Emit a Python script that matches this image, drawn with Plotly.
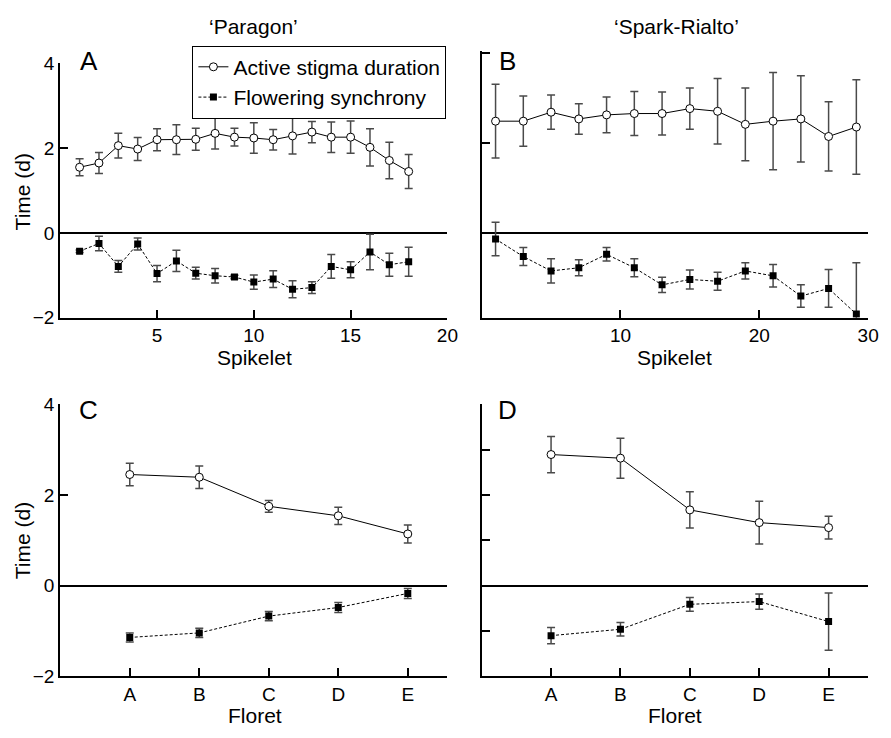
import plotly.graph_objects as go

# ---------------- data ----------------
spikelet_par = list(range(1, 19))
stigma_par = [1.55, 1.65, 2.06, 1.98, 2.20, 2.20, 2.21, 2.35, 2.26, 2.24, 2.20, 2.29, 2.38, 2.26, 2.26, 2.02, 1.71, 1.45]
stigma_par_err = [0.20, 0.25, 0.29, 0.27, 0.26, 0.35, 0.26, 0.37, 0.21, 0.36, 0.24, 0.43, 0.25, 0.36, 0.38, 0.44, 0.43, 0.40]
sync_par = [-0.43, -0.25, -0.79, -0.26, -0.96, -0.66, -0.95, -1.01, -1.04, -1.16, -1.09, -1.33, -1.29, -0.79, -0.87, -0.45, -0.75, -0.68]
sync_par_err = [0.03, 0.17, 0.14, 0.14, 0.19, 0.25, 0.14, 0.17, 0.04, 0.17, 0.20, 0.20, 0.14, 0.28, 0.19, 0.42, 0.27, 0.34]

spikelet_spr = list(range(1, 28, 2))
stigma_spr = [2.48, 2.48, 2.68, 2.53, 2.62, 2.65, 2.65, 2.76, 2.70, 2.41, 2.48, 2.53, 2.14, 2.35]
stigma_spr_err = [0.82, 0.56, 0.38, 0.34, 0.40, 0.49, 0.48, 0.46, 0.73, 0.81, 1.08, 0.96, 0.77, 1.05]
sync_spr = [-0.14, -0.53, -0.85, -0.78, -0.48, -0.78, -1.16, -1.04, -1.08, -0.85, -0.96, -1.41, -1.24, -1.81]
sync_spr_err = [0.37, 0.20, 0.27, 0.18, 0.15, 0.20, 0.17, 0.21, 0.20, 0.18, 0.25, 0.25, 0.42, 1.14]

floret_pos = [1, 2, 3, 4, 5]
floret_labels = ["A", "B", "C", "D", "E"]
stigma_flo_par = [2.45, 2.39, 1.75, 1.54, 1.14]
stigma_flo_par_err = [0.25, 0.25, 0.13, 0.19, 0.20]
sync_flo_par = [-1.14, -1.04, -0.67, -0.48, -0.17]
sync_flo_par_err = [0.10, 0.10, 0.10, 0.11, 0.11]

stigma_flo_spr = [2.89, 2.81, 1.67, 1.39, 1.28]
stigma_flo_spr_err = [0.40, 0.44, 0.40, 0.47, 0.25]
sync_flo_spr = [-1.10, -0.96, -0.41, -0.35, -0.79]
sync_flo_spr_err = [0.18, 0.15, 0.15, 0.17, 0.63]

panel_letters = ["A", "B", "C", "D"]
col_titles = ["\u2018Paragon\u2019", "\u2018Spark-Rialto\u2019"]

# ---------------- figure ----------------
W, H = 891, 738
FONT = "Liberation Sans, Arial, Helvetica, sans-serif"
ERRC = "#4a4a4a"

fig = go.Figure()

def px_x(p):
    return p / W

def px_y(p):
    return 1 - p / H

def add_pair(xs, s, se, f, fe, xa, ya, legend):
    fig.add_trace(go.Scatter(
        x=xs, y=s, xaxis=xa, yaxis=ya, mode="lines+markers",
        name="Active stigma duration", legendgroup="s", showlegend=legend,
        line=dict(color="black", width=1),
        marker=dict(symbol="circle", size=8, color="white", line=dict(color="black", width=1)),
        error_y=dict(type="data", array=se, visible=True, color=ERRC, thickness=1.5, width=4),
    ))
    fig.add_trace(go.Scatter(
        x=xs, y=f, xaxis=xa, yaxis=ya, mode="lines+markers",
        name="Flowering synchrony", legendgroup="f", showlegend=legend,
        line=dict(color="black", width=1, dash="3px,2px"),
        marker=dict(symbol="square", size=7, color="black", line=dict(width=0)),
        error_y=dict(type="data", array=fe, visible=True, color=ERRC, thickness=1.5, width=4),
    ))

add_pair(spikelet_par, stigma_par, stigma_par_err, sync_par, sync_par_err, "x", "y", True)
add_pair(spikelet_spr, stigma_spr, stigma_spr_err, sync_spr, sync_spr_err, "x2", "y2", False)
add_pair(floret_pos, stigma_flo_par, stigma_flo_par_err, sync_flo_par, sync_flo_par_err, "x3", "y3", False)
add_pair(floret_pos, stigma_flo_spr, stigma_flo_spr_err, sync_flo_spr, sync_flo_spr_err, "x4", "y4", False)

LEFT = [px_x(61), px_x(453)]
RIGHT = [px_x(487.7), px_x(879)]
TOP_A = [px_y(316.7), px_y(55)]
TOP_B = [px_y(316.7), px_y(42.7)]
BOT = [px_y(686), px_y(405.7)]

axis_common = dict(showline=True, linecolor="black", linewidth=2, ticks="inside",
                   ticklen=8, tickwidth=2, tickcolor="black", showgrid=False,
                   tickfont=dict(family=FONT, size=19, color="black"))

fig.update_layout(
    width=W, height=H, margin=dict(l=0, r=0, t=0, b=0),
    plot_bgcolor="white", paper_bgcolor="white",
    font=dict(family=FONT, color="black"),
    showlegend=True,
    legend=dict(x=px_x(452), y=px_y(36.7), xanchor="right", yanchor="top",
                bordercolor="black", borderwidth=1, bgcolor="white",
                font=dict(family=FONT, size=21, color="black"),
                itemwidth=30, tracegroupgap=0),
    xaxis=dict(domain=LEFT, range=[0, 20], tickvals=[5, 10, 15, 20], zeroline=False,
               anchor="y", **axis_common),
    yaxis=dict(domain=TOP_A, range=[-2, 4], tickvals=[-2, 0, 2, 4], zeroline=True,
               zerolinecolor="black", zerolinewidth=2, anchor="x", **axis_common),
    xaxis2=dict(domain=RIGHT, range=[0, 27.85], tickvals=[10, 20, 27.85],
                ticktext=["10", "20", "30"], zeroline=False, anchor="y2", **axis_common),
    yaxis2=dict(domain=TOP_B, range=[-1.89, 4.03], tickvals=[-2, 0, 2, 4], showticklabels=False,
                zeroline=True, zerolinecolor="black", zerolinewidth=2, anchor="x2", **axis_common),
    xaxis3=dict(domain=LEFT, range=[0, 5.57], tickvals=floret_pos, ticktext=floret_labels,
                zeroline=False, anchor="y3", **axis_common),
    yaxis3=dict(domain=BOT, range=[-2, 4], tickvals=[-2, 0, 2, 4], zeroline=True,
                zerolinecolor="black", zerolinewidth=2, anchor="x3", **axis_common),
    xaxis4=dict(domain=RIGHT, range=[0, 5.57], tickvals=floret_pos, ticktext=floret_labels,
                zeroline=False, anchor="y4", **axis_common),
    yaxis4=dict(domain=BOT, range=[-2, 4], tickvals=[-2, -1, 0, 1, 2, 3, 4], showticklabels=False,
                zeroline=True, zerolinecolor="black", zerolinewidth=2, anchor="x4", **axis_common),
)

def ann(text, x, y, size, angle=0):
    fig.add_annotation(text=text, x=px_x(x), y=px_y(y), xref="paper", yref="paper",
                       xanchor="center", yanchor="middle", showarrow=False, textangle=angle,
                       font=dict(family=FONT, size=size, color="black"))

# column titles
ann(col_titles[0], 257, 17, 21)
ann(col_titles[1], 685, 17, 21)
# panel letters
ann(panel_letters[0], 90, 53, 26)
ann(panel_letters[1], 514, 53, 26)
ann(panel_letters[2], 90, 412, 26)
ann(panel_letters[3], 514, 412, 26)
# axis titles
ann("Time (d)", 23, 187, 21, -90)
ann("Time (d)", 23, 546, 21, -90)
ann("Spikelet", 258, 358, 21)
ann("Spikelet", 683, 358, 21)
ann("Floret", 258, 726, 21)
ann("Floret", 683, 726, 21)

fig.write_html("out.html")
